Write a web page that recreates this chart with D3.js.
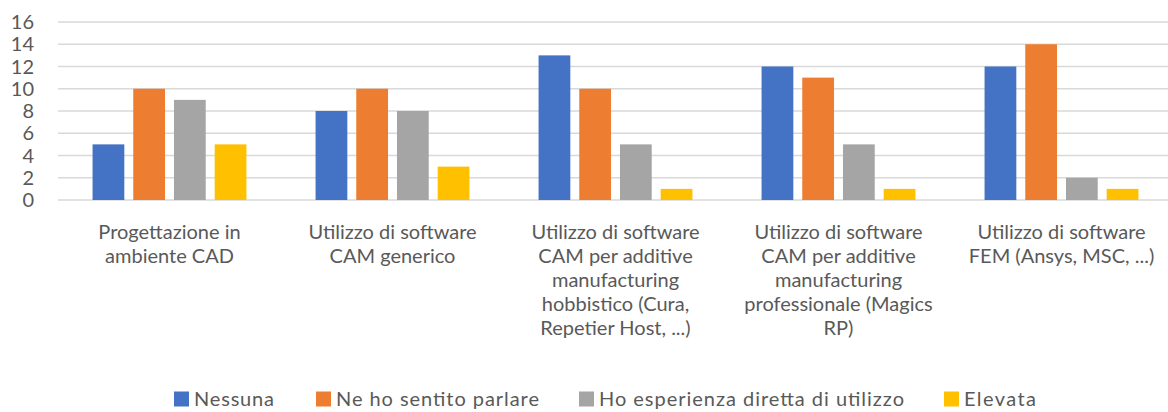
<!DOCTYPE html>
<html>
<head>
<meta charset="utf-8">
<script src="https://cdn.jsdelivr.net/npm/d3@7"></script>
<style>
  body { margin: 0; background: #fff; }
  text { font-family: Lato, "Open Sans", sans-serif; fill: #595959; }
</style>
</head>
<body>
<div id="chart"></div>
<script>
// --- data ---
const categories = [
    'Progettazione in\nambiente CAD',
    'Utilizzo di software\nCAM generico',
    'Utilizzo di software\nCAM per additive\nmanufacturing\nhobbistico (Cura,\nRepetier Host, ...)',
    'Utilizzo di software\nCAM per additive\nmanufacturing\nprofessionale (Magics\nRP)',
    'Utilizzo di software\nFEM (Ansys, MSC, ...)'
];
const seriesNames = ['Nessuna', 'Ne ho sentito parlare', 'Ho esperienza diretta di utilizzo', 'Elevata'];
const nessuna = [5, 8, 13, 12, 12];
const sentitoParlare = [10, 10, 10, 11, 14];
const esperienzaDiretta = [9, 8, 5, 5, 2];
const elevata = [5, 3, 1, 1, 1];
const yTicks = [0, 2, 4, 6, 8, 10, 12, 14, 16];
const colors = ['#4472C4', '#ED7D31', '#A5A5A5', '#FFC000'];

const seriesValues = [nessuna, sentitoParlare, esperienzaDiretta, elevata];

const width = 1168, height = 412;
// plot area runs a little past the right edge, as in the source image
const margin = { left: 58, top: 22, bottom: 212 };
const plotRight = 1173;

const svg = d3.select('#chart').append('svg')
    .attr('width', width)
    .attr('height', height);

const x0 = d3.scaleBand()
    .domain(d3.range(categories.length))
    .range([margin.left, plotRight])
    .paddingInner(0.31)
    .paddingOuter(0.155);

const x1 = d3.scaleBand()
    .domain(d3.range(seriesNames.length))
    .range([0, x0.bandwidth()])
    .paddingInner(0.22);

const y = d3.scaleLinear()
    .domain([0, 16])
    .range([height - margin.bottom, margin.top]);

// gridlines
svg.append('g')
    .selectAll('line')
    .data(yTicks)
    .enter()
    .append('line')
    .attr('x1', margin.left)
    .attr('x2', width)
    .attr('y1', d => y(d))
    .attr('y2', d => y(d))
    .attr('stroke', '#d9d9d9')
    .attr('stroke-width', 1.3);

// y axis labels
svg.append('g')
    .selectAll('text')
    .data(yTicks)
    .enter()
    .append('text')
    .attr('x', 34)
    .attr('y', d => y(d))
    .attr('dy', '0.36em')
    .attr('text-anchor', 'end')
    .attr('font-size', '20px')
    .text(d => d);

// bars
const groups = svg.append('g')
    .selectAll('g')
    .data(categories.map((c, i) => i))
    .enter()
    .append('g')
    .attr('transform', i => `translate(${x0(i)},0)`);

groups.selectAll('rect')
    .data(i => seriesValues.map((vals, s) => ({ s, v: vals[i] })))
    .enter()
    .append('rect')
    .attr('x', d => x1(d.s))
    .attr('width', x1.bandwidth())
    .attr('y', d => y(d.v))
    .attr('height', d => y(0) - y(d.v))
    .attr('fill', d => colors[d.s]);

// category labels
const catLabels = svg.append('g')
    .selectAll('text')
    .data(categories)
    .enter()
    .append('text')
    .attr('text-anchor', 'middle')
    .attr('font-size', '20px')
    .attr('transform', (d, i) => `translate(${x0(i) + x0.bandwidth() / 2},${y(0) + 39})`);

catLabels.selectAll('tspan')
    .data(d => d.split('\n'))
    .enter()
    .append('tspan')
    .attr('x', 0)
    .attr('y', (d, i) => i * 24)
    .text(d => d);

// legend
const legendX = [174, 316, 579, 944];
const legend = svg.append('g')
    .selectAll('g')
    .data(seriesNames)
    .enter()
    .append('g')
    .attr('transform', (d, i) => `translate(${legendX[i]},399)`);

legend.append('rect')
    .attr('x', 0)
    .attr('y', -7.5)
    .attr('width', 15)
    .attr('height', 15)
    .attr('fill', (d, i) => colors[i]);

legend.append('text')
    .attr('x', 20)
    .attr('dy', '0.36em')
    .attr('font-size', '20px')
    .attr('textLength', (d, i) => [80, 203, 305, 72][i])
    .attr('lengthAdjust', 'spacing')
    .text(d => d);
</script>
</body>
</html>
